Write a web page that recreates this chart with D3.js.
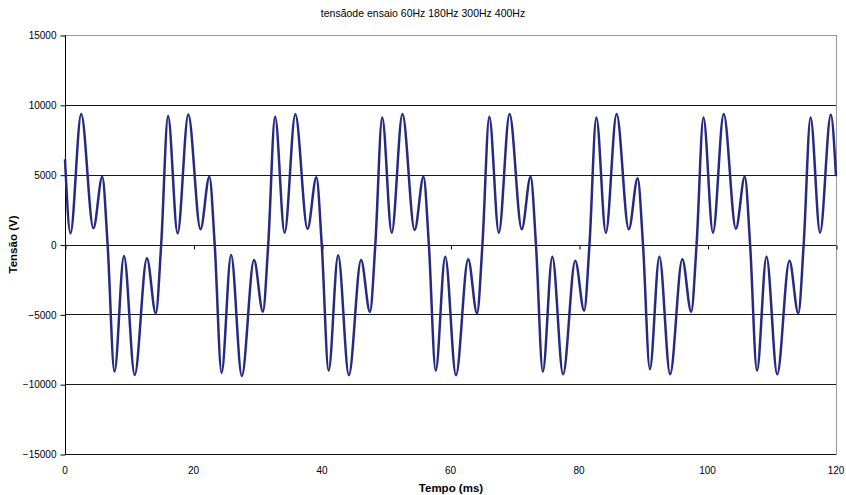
<!DOCTYPE html>
<html><head><meta charset="utf-8">
<script src="https://cdn.jsdelivr.net/npm/d3@7"></script>
<style>body{margin:0;background:#fff} svg{display:block}</style>
</head><body>
<svg id="c" width="846" height="495"></svg>
<script>
const title = "tensãode ensaio 60Hz 180Hz 300Hz 400Hz";
const xLabel = "Tempo (ms)";
const yLabel = "Tensão (V)";
const xTicks = [0, 20, 40, 60, 80, 100, 120];
const yTicks = [-15000, -10000, -5000, 0, 5000, 10000, 15000];

// waveform: turning points and zero crossings
const timeMs = [
  0, 0.85, 2.52, 4.42, 5.80, 6.63, 7.70, 9.18, 10.85, 12.75, 14.13, 14.97,
  16.04, 17.52, 19.19, 21.09, 22.47, 23.30, 24.37, 25.85, 27.52, 29.42, 30.80, 31.63,
  32.70, 34.18, 35.85, 37.75, 39.13, 39.96, 41.03, 42.51, 44.18, 46.08, 47.46, 48.30,
  49.37, 50.85, 52.52, 54.42, 55.80, 56.63, 57.70, 59.18, 60.85, 62.75, 64.13, 64.97,
  66.04, 67.52, 69.19, 71.09, 72.47, 73.30, 74.37, 75.85, 77.52, 79.42, 80.80, 81.63,
  82.70, 84.18, 85.85, 87.75, 89.13, 89.96, 91.03, 92.51, 94.18, 96.08, 97.46, 98.30,
  99.37, 100.85, 102.52, 104.42, 105.80, 106.63, 107.70, 109.18, 110.85, 112.75, 114.13, 114.97,
  116.04, 117.52, 119.19, 120
];
const voltage = [
  6100, 800, 9340, 1160, 4850, 0, -9100, -820, -9340, -990, -4930, 0,
  9200, 800, 9300, 1090, 4850, 0, -9180, -750, -9410, -1110, -4810, 0,
  9150, 845, 9320, 1130, 4810, 0, -9030, -775, -9360, -1110, -4830, 0,
  9100, 845, 9340, 1040, 4850, 0, -9030, -870, -9360, -1060, -4930, 0,
  9150, 845, 9340, 1090, 4850, 0, -9100, -870, -9290, -1160, -4740, 0,
  9100, 845, 9340, 1090, 4740, 0, -8930, -870, -9290, -1060, -4810, 0,
  9100, 845, 9340, 1130, 4850, 0, -9030, -870, -9290, -1160, -4930, 0,
  9100, 845, 9290, 4900
];

const svg = d3.select("#c");
const L = 65, R = 836, T = 35, B = 454;
const x = d3.scaleLinear().domain([0, 120]).range([L, R]);
const y = d3.scaleLinear().domain([-15000, 15000]).range([B, T]);
const font = "'Liberation Sans', Arial, sans-serif";

// plot border (gray)
svg.append("rect").attr("x", L + 0.5).attr("y", T + 0.5)
  .attr("width", R - L).attr("height", B - T)
  .attr("fill", "none").attr("stroke", "#9a9a9a").attr("stroke-width", 1);

// gridlines
svg.append("g").selectAll("line").data(yTicks.filter(v => v < 15000)).join("line")
  .attr("x1", L).attr("x2", R)
  .attr("y1", d => Math.round(y(d)) + 0.5).attr("y2", d => Math.round(y(d)) + 0.5)
  .attr("stroke", "#1a1a1a").attr("stroke-width", 1);

// y axis
const yAxis = d3.axisLeft(y).tickValues(yTicks).tickSize(5).tickPadding(4).tickFormat(d3.format("d"));
const gy = svg.append("g").attr("transform", `translate(${L + 0.5},0.5)`).call(yAxis);
gy.select(".domain").attr("stroke", "#000").attr("d", `M0,${T}V${B}`);
gy.selectAll(".tick line").attr("stroke", "#000");
gy.selectAll("text").attr("font-family", font).attr("font-size", 10).attr("fill", "#000");

// x axis ticks on the zero line, labels at bottom
const xAxis = d3.axisBottom(x).tickValues(xTicks).tickSize(4).tickFormat("");
const gx = svg.append("g").attr("transform", `translate(0.5,${Math.round(y(0)) + 0.5})`).call(xAxis);
gx.select(".domain").remove();
gx.selectAll(".tick line").attr("stroke", "#000");
svg.append("g").selectAll("text").data(xTicks).join("text")
  .attr("x", d => x(d)).attr("y", 474)
  .attr("text-anchor", "middle").attr("font-family", font).attr("font-size", 10)
  .text(d => d);

// series
const pts = timeMs.map((t, i) => [t, voltage[i]]);
const line = d3.line().x(d => x(d[0])).y(d => y(d[1])).curve(d3.curveMonotoneX);
svg.append("path").datum(pts).attr("d", line)
  .attr("fill", "none").attr("stroke", "#262b80").attr("stroke-width", 2.5)
  .attr("stroke-linejoin", "round");

// titles
svg.append("text").attr("x", 423).attr("y", 17).attr("text-anchor", "middle")
  .attr("font-family", font).attr("font-size", 10.5).text(title);
svg.append("text").attr("x", 451).attr("y", 492).attr("text-anchor", "middle")
  .attr("font-family", font).attr("font-size", 11.5).attr("font-weight", "bold").text(xLabel);
svg.append("text").attr("transform", `translate(17,${y(0)}) rotate(-90)`)
  .attr("text-anchor", "middle").attr("font-family", font).attr("font-size", 11.5)
  .attr("font-weight", "bold").text(yLabel);
</script>
</body></html>
